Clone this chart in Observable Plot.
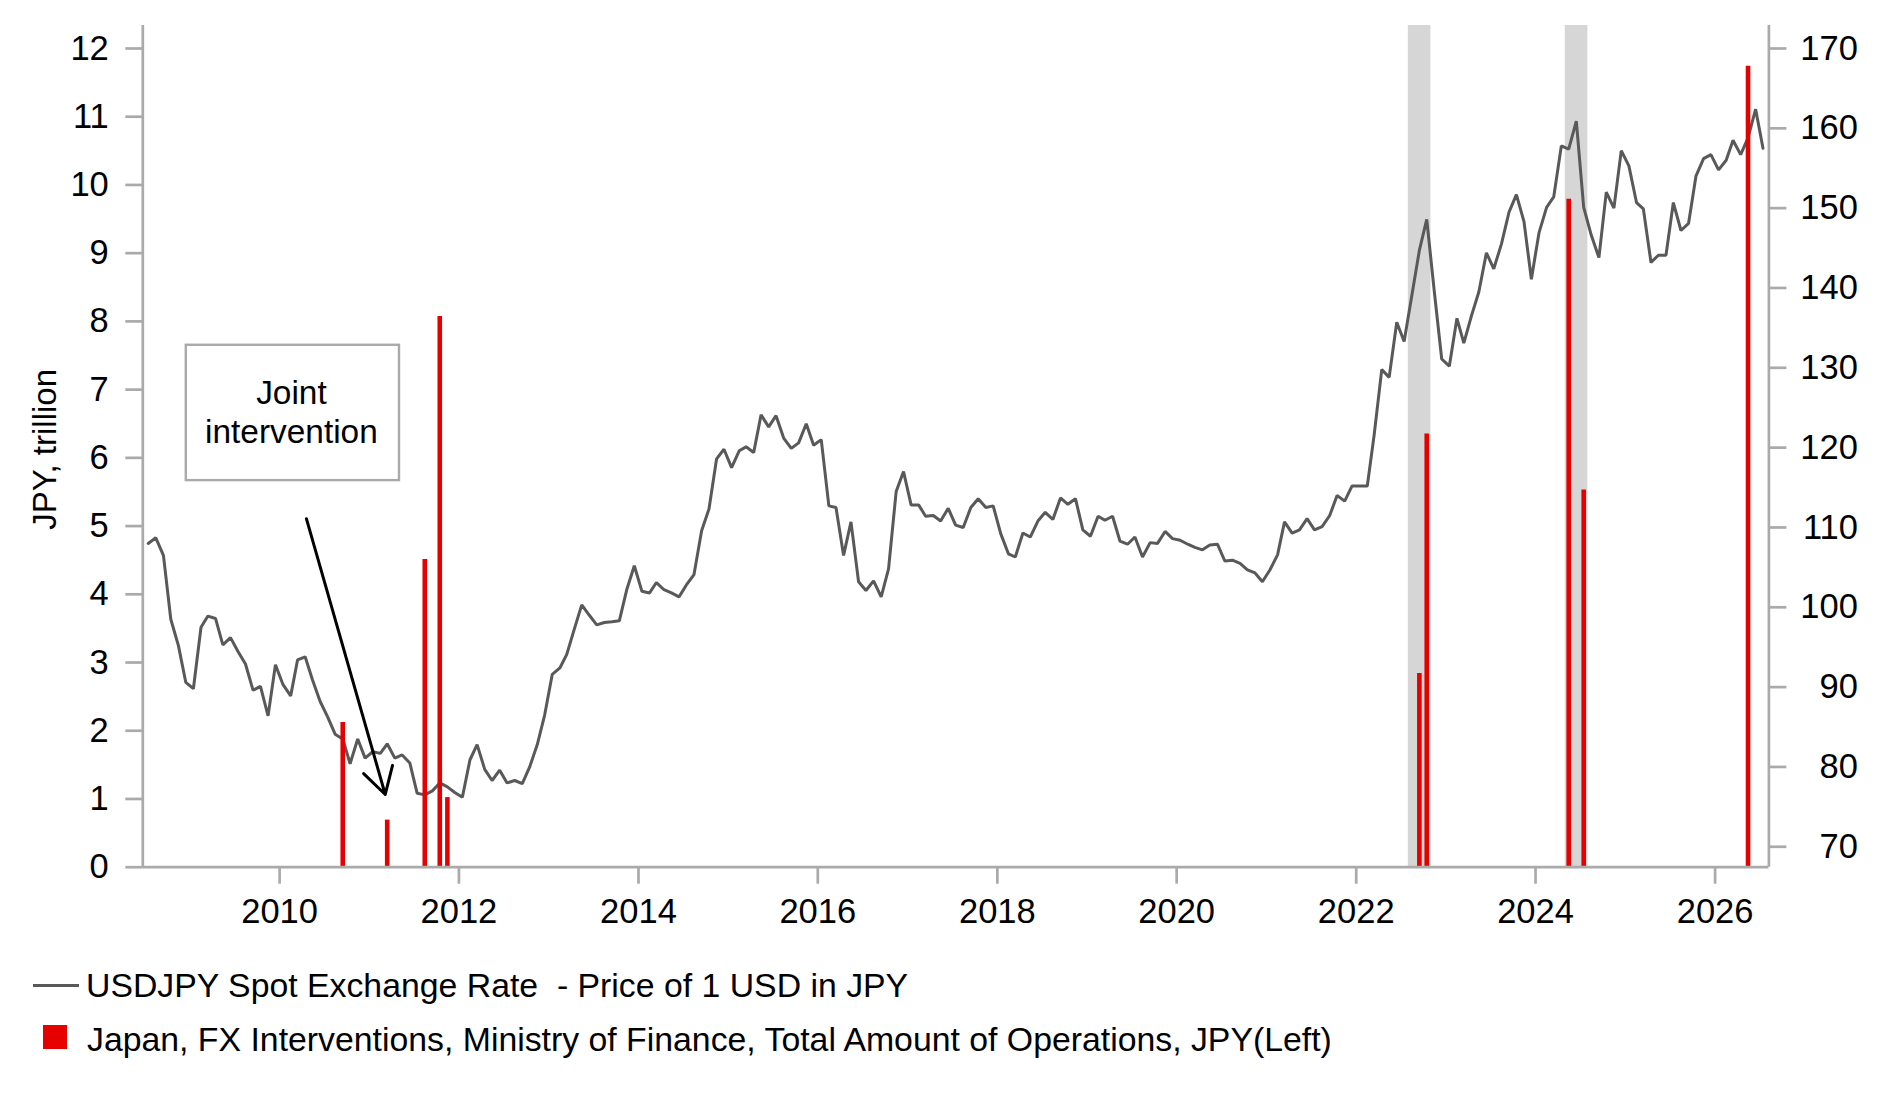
<!DOCTYPE html>
<html>
<head>
<meta charset="utf-8">
<script src="https://cdn.jsdelivr.net/npm/d3@7"></script>
<script src="https://cdn.jsdelivr.net/npm/@observablehq/plot@0.6"></script>
<style>
html, body { margin: 0; padding: 0; background: #fff; }
#wrap { position: relative; width: 1883px; height: 1101px; font-family: "Liberation Sans", Arial, sans-serif; color: #000; overflow: hidden; }
#chart { position: absolute; left: 0; top: 0; }
.legtxt { position: absolute; font-size: 33.8px; line-height: 33.8px; white-space: pre; }
.sw { position: absolute; }
</style>
</head>
<body>
<div id="wrap">
  <div id="chart"></div>
  <div class="sw" style="left:32.5px; top:983.5px; width:46px; height:3px; background:#595959;"></div>
  <div class="legtxt" style="left:86px; top:969.3px;">USDJPY Spot Exchange Rate  - Price of 1 USD in JPY</div>
  <div class="sw" style="left:43px; top:1025px; width:24px; height:24px; background:#e60000;"></div>
  <div class="legtxt" style="left:87px; top:1022.8px;">Japan, FX Interventions, Ministry of Finance, Total Amount of Operations, JPY(Left)</div>
</div>
<script>
// ---------------- data ----------------
// USDJPY month-end spot (price of 1 USD in JPY), one array per year (2008 starts in July)
const fx2008 = [108.0, 108.7, 106.5, 98.5, 95.2, 90.6];
const fx2009 = [89.8, 97.5, 98.9, 98.6, 95.3, 96.2, 94.5, 92.9, 89.6, 90.1, 86.4, 92.8];
const fx2010 = [90.3, 88.9, 93.4, 93.8, 90.9, 88.2, 86.3, 84.1, 83.5, 80.4, 83.5, 81.1];
const fx2011 = [81.9, 81.7, 82.9, 81.1, 81.5, 80.5, 76.7, 76.5, 77.0, 78.0, 77.5, 76.8];
const fx2012 = [76.2, 80.9, 82.8, 79.7, 78.3, 79.6, 78.0, 78.3, 77.9, 80.0, 82.8, 86.5];
const fx2013 = [91.6, 92.4, 94.1, 97.3, 100.3, 99.0, 97.8, 98.1, 98.2, 98.3, 102.3, 105.2];
const fx2014 = [102.0, 101.8, 103.1, 102.2, 101.8, 101.3, 102.8, 104.1, 109.6, 112.3, 118.6, 119.8];
const fx2015 = [117.5, 119.6, 120.1, 119.4, 124.1, 122.6, 124.0, 121.2, 119.9, 120.6, 123.0, 120.3];
const fx2016 = [121.0, 112.7, 112.5, 106.5, 110.7, 103.2, 102.1, 103.3, 101.3, 104.8, 114.5, 117.0];
const fx2017 = [112.8, 112.8, 111.4, 111.5, 110.8, 112.4, 110.3, 110.0, 112.5, 113.6, 112.5, 112.7];
const fx2018 = [109.2, 106.7, 106.3, 109.3, 108.8, 110.8, 111.9, 111.0, 113.7, 112.9, 113.6, 109.7];
const fx2019 = [108.9, 111.4, 110.9, 111.4, 108.3, 107.9, 108.8, 106.3, 108.1, 108.0, 109.5, 108.6];
const fx2020 = [108.4, 107.9, 107.5, 107.2, 107.8, 107.9, 105.8, 105.9, 105.5, 104.7, 104.3, 103.2];
const fx2021 = [104.7, 106.6, 110.7, 109.3, 109.7, 111.1, 109.7, 110.1, 111.5, 114.0, 113.3, 115.2];
const fx2022 = [115.2, 115.2, 121.6, 129.8, 128.8, 135.7, 133.3, 139.0, 144.7, 148.6, 139.5, 131.1];
const fx2023 = [130.2, 136.2, 133.1, 136.5, 139.5, 144.4, 142.4, 145.5, 149.5, 151.7, 148.3, 141.1];
const fx2024 = [146.9, 150.1, 151.4, 157.8, 157.4, 160.9, 150.1, 146.6, 143.8, 152.0, 150.0, 157.2];
const fx2025 = [155.3, 150.7, 149.9, 143.2, 144.1, 144.1, 150.7, 147.2, 148.1, 154.0, 156.2, 156.7];
const fx2026 = [154.8, 156.0, 158.5, 156.7, 158.8, 162.4, 157.5];
const fxByYear = [fx2008, fx2009, fx2010, fx2011, fx2012, fx2013, fx2014, fx2015, fx2016, fx2017,
                  fx2018, fx2019, fx2020, fx2021, fx2022, fx2023, fx2024, fx2025, fx2026];
const fxFirstYear = 2008, fxFirstMonth = 7;

// MoF FX interventions, JPY trillion (left axis)
const interventionMonths  = ["2010-09", "2011-03", "2011-08", "2011-10", "2011-11", "2022-09", "2022-10", "2024-05", "2024-07", "2026-05"];
const interventionAmounts = [2.12, 0.69, 4.51, 8.07, 1.02, 2.84, 6.35, 9.79, 5.53, 11.74];

// shaded intervention periods
const bandStarts = ["2022-08-01", "2024-05-01"];
const bandEnds   = ["2022-11-01", "2024-08-01"];

// axes
const leftTicks  = [0, 1, 2, 3, 4, 5, 6, 7, 8, 9, 10, 11, 12];
const rightTicks = [70, 80, 90, 100, 110, 120, 130, 140, 150, 160, 170];
const yearTicks  = [2010, 2012, 2014, 2016, 2018, 2020, 2022, 2024, 2026];
const xDomain = ["2008-06-23", "2026-08-08"];
const leftDomain = [0, 12.337];
const rightAtLeftZero = 67.44, rightAtLeft12 = 170;

// annotation ("Joint intervention")
const noteBox   = [{x1: "2008-12-17", x2: "2011-05-04", y1: 5.666, y2: 7.650}];
const noteText  = [{x: "2010-02-18", y: 6.682, text: "Joint\nintervention"}];
const noteArrow = [{x1: "2010-04-20", y1: 5.108, x2: "2011-03-07", y2: 1.066}];

// ---------------- build ----------------
const day = s => new Date(s + "T00:00:00Z");
const toLeft = v => (v - rightAtLeftZero) * 12 / (rightAtLeft12 - rightAtLeftZero);
const toRight = l => l * (rightAtLeft12 - rightAtLeftZero) / 12 + rightAtLeftZero;

const fxData = [];
fxByYear.forEach((arr, k) => {
  const yr = fxFirstYear + k;
  const m0 = k === 0 ? fxFirstMonth - 1 : 0;
  arr.forEach((v, j) => fxData.push({date: new Date(Date.UTC(yr, m0 + j, 15)), value: v}));
});
const interventions = interventionMonths.map((m, i) => ({date: day(m + "-15"), amount: interventionAmounts[i]}));
const bands = bandStarts.map((s, i) => ({start: day(s), end: day(bandEnds[i])}));
const boxes = noteBox.map(d => ({x1: day(d.x1), x2: day(d.x2), y1: d.y1, y2: d.y2}));
const texts = noteText.map(d => ({x: day(d.x), y: d.y, text: d.text}));
const arrows = noteArrow.map(d => ({x1: day(d.x1), y1: d.y1, x2: day(d.x2), y2: d.y2}));

const W = 1883, H = 940;
const axisGray = "#aaaaaa";
const xd = xDomain.map(day);
const TICK_FS = 34.5;

const chart = Plot.plot({
  width: W,
  height: H,
  marginTop: 25,
  marginBottom: H - 866.7,
  marginLeft: 142.3,
  marginRight: W - 1768.4,
  style: {fontFamily: "'Liberation Sans', Arial, sans-serif", fontSize: TICK_FS + "px", color: "#000", background: "#fff", overflow: "visible"},
  x: {type: "utc", domain: xd},
  y: {domain: leftDomain},
  marks: [
    Plot.rect(bands, {x1: "start", x2: "end", fill: "#d6d6d6"}),
    Plot.line(fxData, {x: "date", y: d => toLeft(d.value), stroke: "#595959", strokeWidth: 3, strokeLinejoin: "miter"}),
    Plot.ruleX(interventions, {x: "date", y1: 0, y2: "amount", stroke: "#e60000", strokeWidth: 4.6}),
    // axis lines
    Plot.ruleX([xd[0]], {stroke: axisGray, strokeWidth: 2.7}),
    Plot.ruleX([xd[1]], {stroke: axisGray, strokeWidth: 2.7}),
    Plot.ruleY([0], {stroke: axisGray, strokeWidth: 2.7}),
    // left axis
    Plot.axisY(leftTicks, {anchor: "left", tickSize: 17, tickPadding: 17, tickFormat: d3.format("d"),
      stroke: axisGray, strokeWidth: 2.7, fill: "#000", label: null, fontSize: TICK_FS}),
    // right axis (USDJPY) mapped onto the left scale
    Plot.axisY(rightTicks.map(toLeft), {anchor: "right", tickSize: 17, tickPadding: 72, textAnchor: "end",
      tickFormat: d => String(Math.round(toRight(d))), stroke: axisGray, strokeWidth: 2.7, fill: "#000", label: null, fontSize: TICK_FS}),
    // x axis
    Plot.axisX(yearTicks.map(y => new Date(Date.UTC(y, 0, 1))), {anchor: "bottom", tickSize: 17, tickPadding: 14.3,
      tickFormat: d3.utcFormat("%Y"), stroke: axisGray, strokeWidth: 2.7, fill: "#000", label: null, fontSize: TICK_FS}),
    // y label
    Plot.text(["JPY, trillion"], {frameAnchor: "left", textAnchor: "middle", rotate: -90, dx: -97, dy: 3, fontSize: 33, fill: "#000"}),
    // annotation
    Plot.rect(boxes, {x1: "x1", x2: "x2", y1: "y1", y2: "y2", fill: "white", stroke: axisGray, strokeWidth: 2.4}),
    Plot.text(texts, {x: "x", y: "y", text: "text", fontSize: 33.4, lineHeight: 1.159, fill: "#000"}),
    Plot.arrow(arrows, {x1: "x1", y1: "y1", x2: "x2", y2: "y2", stroke: "#000", strokeWidth: 3, headLength: 15, headAngle: 60})
  ]
});
document.getElementById("chart").appendChild(chart);
</script>
</body>
</html>
